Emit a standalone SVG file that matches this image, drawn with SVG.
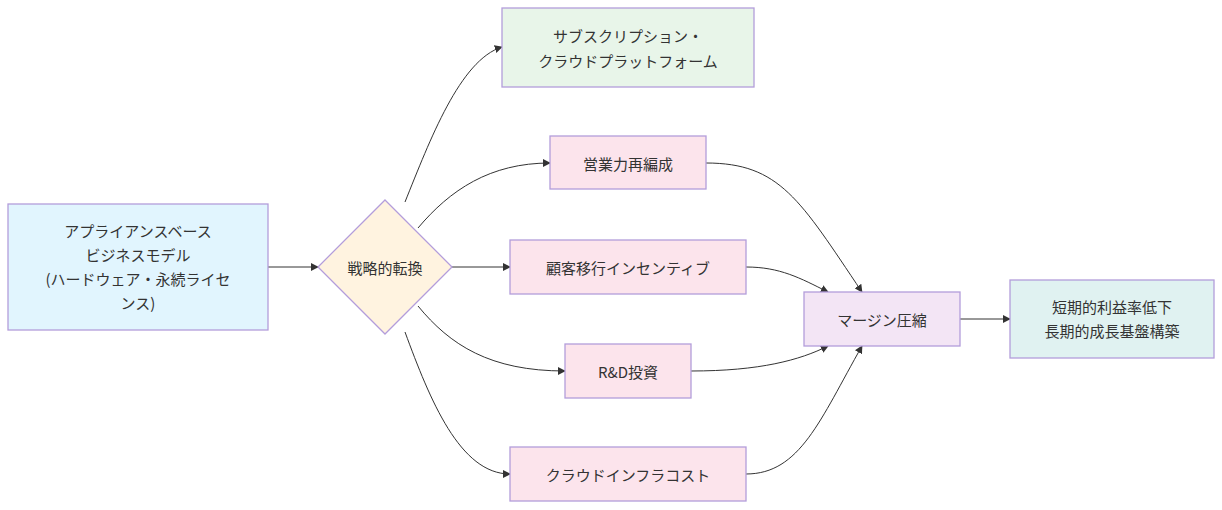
<svg xmlns="http://www.w3.org/2000/svg" width="1222" height="510" viewBox="0 0 1222 510">
<style>
text{font-family:"Noto Sans CJK JP","Liberation Sans",sans-serif;font-size:15px;fill:#333;text-anchor:middle;dominant-baseline:central}
.n{stroke:#b39ddb;stroke-width:1.3}
.e{fill:none;stroke:#333;stroke-width:1}
</style>
<defs><marker id="a" viewBox="0 0 10 10" refX="9" refY="5" markerWidth="8" markerHeight="8" orient="auto"><path d="M0,0L10,5L0,10z" fill="#333"/></marker></defs>
<rect width="1222" height="510" fill="#fff"/>
<g id="connectors">
<path class="e" marker-end="url(#a)" d="M268,267H318"/>
<path class="e" marker-end="url(#a)" d="M405,202C430,140 460,60 502,47"/>
<path class="e" marker-end="url(#a)" d="M418,228C450,190 490,163 550,163"/>
<path class="e" marker-end="url(#a)" d="M452,267H510"/>
<path class="e" marker-end="url(#a)" d="M418,306C450,345 490,371 565,371"/>
<path class="e" marker-end="url(#a)" d="M405,332C430,400 460,474 510,474"/>
<path class="e" marker-end="url(#a)" d="M706,163C780,163 800,200 862,292"/>
<path class="e" marker-end="url(#a)" d="M746,267C780,267 800,278 828,292"/>
<path class="e" marker-end="url(#a)" d="M691,371C760,371 800,360 828,346"/>
<path class="e" marker-end="url(#a)" d="M746,474C800,474 820,420 862,346"/>
<path class="e" marker-end="url(#a)" d="M960,319H1010"/>
</g>
<g id="n1"><rect class="n" x="8" y="204" width="260" height="126" fill="#e1f5fe"/><text x="138" y="230">アプライアンスベース</text><text x="138" y="254">ビジネスモデル</text><text x="138" y="278">(ハードウェア・永続ライセ</text><text x="138" y="302">ンス)</text></g>
<g id="n2"><path class="n" d="M385,200L452,267L385,334L318,267z" fill="#fff3e0"/><text x="385" y="267">戦略的転換</text></g>
<g id="n3"><rect class="n" x="502" y="8" width="252" height="79" fill="#e8f5e9"/><text x="628" y="35">サブスクリプション・</text><text x="628" y="60">クラウドプラットフォーム</text></g>
<g id="n4"><rect class="n" x="550" y="136" width="156" height="53" fill="#fce4ec"/><text x="628" y="163">営業力再編成</text></g>
<g id="n5"><rect class="n" x="510" y="240" width="236" height="54" fill="#fce4ec"/><text x="628" y="267">顧客移行インセンティブ</text></g>
<g id="n6"><rect class="n" x="565" y="344" width="126" height="54" fill="#fce4ec"/><text x="628" y="371">R&amp;D投資</text></g>
<g id="n7"><rect class="n" x="510" y="447" width="236" height="54" fill="#fce4ec"/><text x="628" y="474">クラウドインフラコスト</text></g>
<g id="n8"><rect class="n" x="804" y="292" width="156" height="54" fill="#f3e5f5"/><text x="882" y="319">マージン圧縮</text></g>
<g id="n9"><rect class="n" x="1010" y="280" width="204" height="78" fill="#e0f2f1"/><text x="1112" y="306">短期的利益率低下</text><text x="1112" y="330">長期的成長基盤構築</text></g>
</svg>
